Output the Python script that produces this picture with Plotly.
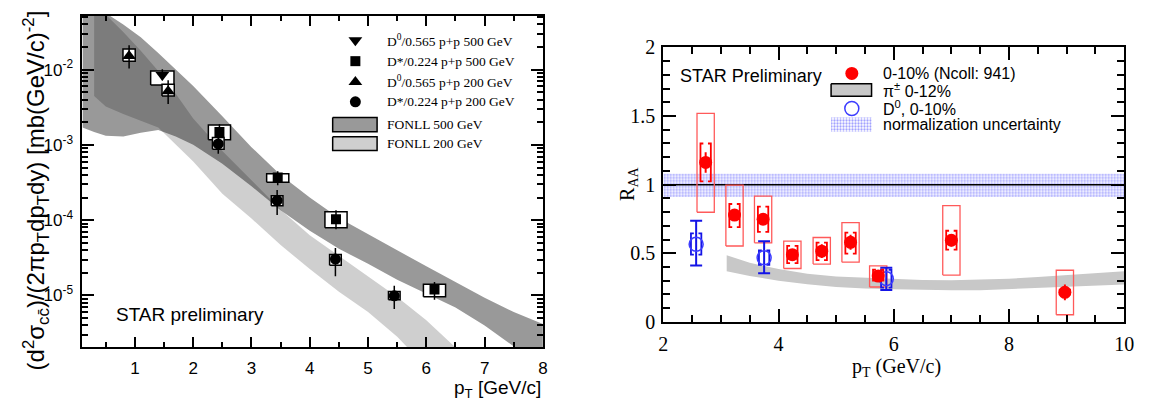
import plotly.graph_objects as go

W, H = 1151, 410

# ------------------------------------------------------------------ data: left panel
# D0/0.565 p+p 500 GeV
d0_500_pt = [1.47]
d0_500_y = [8.5e-3]
d0_500_stat_hi = [1.01e-2]
d0_500_stat_lo = [7.2e-3]
d0_500_sys_hi = [9.6e-3]
d0_500_sys_lo = [6.25e-3]
d0_500_dx = [0.20]

# D*/0.224 p+p 500 GeV
ds_500_pt = [2.45, 3.45, 4.45, 6.14]
ds_500_y = [1.48e-3, 3.69e-4, 1.03e-4, 1.2e-5]
ds_500_stat_hi = [1.88e-3, 4.47e-4, 1.35e-4, 1.51e-5]
ds_500_stat_lo = [1.22e-3, 2.9e-4, 7.6e-5, 8.75e-6]
ds_500_sys_hi = [1.83e-3, 4.14e-4, 1.29e-4, 1.41e-5]
ds_500_sys_lo = [1.17e-3, 3.19e-4, 7.94e-5, 9.6e-6]
ds_500_dx = [0.19, 0.19, 0.19, 0.19]

# D0/0.565 p+p 200 GeV
d0_200_pt = [0.90, 1.57]
d0_200_y = [1.51e-2, 5.16e-3]
d0_200_stat_hi = [2.11e-2, 7.2e-3]
d0_200_stat_lo = [1.03e-2, 3.5e-3]
d0_200_sys_hi = [1.88e-2, 6.37e-3]
d0_200_sys_lo = [1.29e-2, 4.47e-3]
d0_200_dx = [0.105, 0.105]

# D*/0.224 p+p 200 GeV
ds_200_pt = [2.43, 3.44, 4.44, 5.45]
ds_200_y = [1.03e-3, 1.83e-4, 3.04e-5, 9.9e-6]
ds_200_stat_hi = [1.35e-3, 2.51e-4, 4.26e-5, 1.35e-5]
ds_200_stat_lo = [7.6e-4, 1.17e-4, 1.8e-5, 6.6e-6]
ds_200_sys_hi = [1.25e-3, 2.11e-4, 3.51e-5, 1.13e-5]
ds_200_sys_lo = [8.75e-4, 1.56e-4, 2.51e-5, 8.75e-6]
ds_200_dx = [0.10, 0.10, 0.10, 0.10]

# FONLL 500 GeV band
fonll500_pt = [0.1, 0.3, 0.5, 0.8, 1.1, 1.4, 1.7, 2.0, 2.5, 3.0, 3.5, 4.0, 4.5, 5.0, 5.5, 6.0, 6.5, 7.0, 7.5, 8.0]
fonll500_hi = [8.71e-2, 7.08e-2, 5.62e-2, 3.98e-2, 2.69e-2, 1.66e-2, 1.0e-2, 6.03e-3, 2.40e-3, 9.33e-4,
               3.98e-4, 2.0e-4, 1.07e-4, 6.46e-5, 3.98e-5, 2.45e-5, 1.51e-5, 9.33e-6, 6.03e-6, 4.17e-6]
fonll500_lo = [1.70e-3, 1.48e-3, 1.32e-3, 1.29e-3, 1.45e-3, 1.58e-3, 1.29e-3, 1.0e-3, 5.62e-4, 2.82e-4,
               1.35e-4, 7.24e-5, 4.17e-5, 2.63e-5, 1.62e-5, 1.05e-5, 6.92e-6, 3.98e-6, 2.09e-6, 1.12e-6]

# FONLL 200 GeV band
fonll200_pt = [0.3, 0.5, 0.8, 1.1, 1.4, 1.7, 2.0, 2.5, 3.0, 3.5, 4.0, 4.5, 5.0, 5.5, 6.0, 6.5, 7.0]
fonll200_hi = [8.91e-2, 5.37e-2, 3.16e-2, 1.78e-2, 9.55e-3, 4.79e-3, 2.24e-3, 8.32e-4, 3.39e-4, 1.38e-4,
               6.31e-5, 3.39e-5, 1.82e-5, 9.55e-6, 4.68e-6, 2.0e-6, 8.9e-7]
fonll200_lo = [4.47e-3, 3.24e-3, 2.57e-3, 2.09e-3, 1.70e-3, 1.0e-3, 6.03e-4, 2.24e-4, 1.05e-4, 4.68e-5,
               2.24e-5, 1.12e-5, 6.03e-6, 2.82e-6, 1.12e-6, 4.0e-7, 1.6e-7]

left_ytick_vals = [1e-5, 1e-4, 1e-3, 1e-2]
left_ytick_text = ["10<sup>-5</sup>", "10<sup>-4</sup>", "10<sup>-3</sup>", "10<sup>-2</sup>"]

# ------------------------------------------------------------------ data: right panel
raa_pt = [2.735, 3.236, 3.732, 4.24, 4.75, 5.25, 5.73, 7.0, 8.97]
raa_y = [1.162, 0.778, 0.748, 0.49, 0.515, 0.58, 0.334, 0.595, 0.215]
raa_stat = [0.075, 0.04, 0.04, 0.04, 0.05, 0.055, 0.03, 0.045, 0.057]
raa_box_lo = [0.799, 0.553, 0.576, 0.389, 0.421, 0.435, 0.254, 0.341, 0.052]
raa_box_hi = [1.519, 0.997, 0.916, 0.588, 0.615, 0.723, 0.408, 0.847, 0.376]
raa_brk_lo = [1.024, 0.691, 0.656, 0.428, 0.45, 0.497, 0.30, 0.526, 0.20]
raa_brk_hi = [1.30, 0.859, 0.84, 0.554, 0.577, 0.65, 0.38, 0.664, 0.235]

d0_pt = [2.57, 3.75, 5.87]
d0_y = [0.565, 0.467, 0.315]
d0_stat_lo = [0.41, 0.355, 0.233]
d0_stat_hi = [0.737, 0.588, 0.394]
d0_brk_lo = [0.49, 0.416, 0.25]
d0_brk_hi = [0.645, 0.52, 0.38]

pion_pt = [3.1, 3.5, 4.0, 4.5, 5.0, 5.5, 6.0, 6.5, 7.0, 7.5, 8.0, 8.5, 9.0, 9.5, 10.0]
pion_hi = [0.486, 0.43, 0.385, 0.35, 0.33, 0.32, 0.314, 0.305, 0.303, 0.307, 0.315, 0.327, 0.341, 0.355, 0.369]
pion_lo = [0.369, 0.335, 0.30, 0.275, 0.255, 0.243, 0.238, 0.233, 0.231, 0.231, 0.236, 0.245, 0.254, 0.263, 0.272]

norm_lo, norm_hi = 0.91, 1.08
unity = 1.0

# ------------------------------------------------------------------ layout geometry (pixels)
L_X0, L_X1, L_Y0, L_Y1 = 78.5, 545.0, 5.0, 355.5
R_X0, R_X1, R_Y0, R_Y1 = 667.0, 1134.0, 38.5, 328.5

SANS = "Liberation Sans, Arial, sans-serif"
SERIF = "Liberation Serif, Times New Roman, serif"


def px(xp):
    return xp / W


def py(yp):
    return 1 - yp / H


def box_path(xs, lo, hi, dx):
    bx, by = [], []
    for x, l, h, d in zip(xs, lo, hi, dx):
        bx += [x - d, x + d, x + d, x - d, x - d, None]
        by += [l, l, h, h, l, None]
    return bx, by


def bracket_path(xs, lo, hi, hw, arm):
    bx, by = [], []
    for x, l, h in zip(xs, lo, hi):
        bx += [x - hw + arm, x - hw, x - hw, x - hw + arm, None,
               x + hw - arm, x + hw, x + hw, x + hw - arm, None]
        by += [h, h, l, l, None, h, h, l, l, None]
    return bx, by


fig = go.Figure()

# ---------------- left panel bands
fig.add_trace(go.Scatter(
    x=fonll500_pt + fonll500_pt[::-1], y=fonll500_hi + fonll500_lo[::-1],
    fill="toself", fillcolor="#999999", line=dict(width=0), mode="lines",
    xaxis="x", yaxis="y", showlegend=False, hoverinfo="skip"))
fig.add_trace(go.Scatter(
    x=fonll200_pt + fonll200_pt[::-1], y=fonll200_hi + fonll200_lo[::-1],
    fill="toself", fillcolor="rgba(0,0,0,0.19)", line=dict(width=0), mode="lines",
    xaxis="x", yaxis="y", showlegend=False, hoverinfo="skip"))

# ---------------- left panel systematic boxes
left_series = [
    (d0_500_pt, d0_500_y, d0_500_stat_lo, d0_500_stat_hi, d0_500_sys_lo, d0_500_sys_hi, d0_500_dx, "triangle-down", 12),
    (ds_500_pt, ds_500_y, ds_500_stat_lo, ds_500_stat_hi, ds_500_sys_lo, ds_500_sys_hi, ds_500_dx, "square", 10),
    (d0_200_pt, d0_200_y, d0_200_stat_lo, d0_200_stat_hi, d0_200_sys_lo, d0_200_sys_hi, d0_200_dx, "triangle-up", 12),
    (ds_200_pt, ds_200_y, ds_200_stat_lo, ds_200_stat_hi, ds_200_sys_lo, ds_200_sys_hi, ds_200_dx, "circle", 11),
]
for pt, y, slo, shi, blo, bhi, dx, sym, size in left_series:
    bx, by = box_path(pt, blo, bhi, dx)
    fig.add_trace(go.Scatter(x=bx, y=by, fill="toself", fillcolor="white",
                             line=dict(color="black", width=1.5), mode="lines",
                             xaxis="x", yaxis="y", showlegend=False, hoverinfo="skip"))
for pt, y, slo, shi, blo, bhi, dx, sym, size in left_series:
    fig.add_trace(go.Scatter(
        x=pt, y=y, mode="markers",
        marker=dict(symbol=sym, size=size, color="black"),
        error_y=dict(type="data", symmetric=False,
                     array=[h - v for h, v in zip(shi, y)],
                     arrayminus=[v - l for l, v in zip(slo, y)],
                     color="black", thickness=1.5, width=0),
        xaxis="x", yaxis="y", showlegend=False, hoverinfo="skip"))

# ---------------- right panel
fig.add_trace(go.Scatter(
    x=[2, 10, 10, 2, 2], y=[norm_lo, norm_lo, norm_hi, norm_hi, norm_lo],
    fill="toself", fillcolor="rgba(0,0,0,0)", mode="lines", line=dict(width=0),
    fillpattern=dict(shape=".", fgcolor="rgb(70,70,255)", bgcolor="rgba(255,255,255,0)", size=3, solidity=0.45),
    xaxis="x2", yaxis="y2", showlegend=False, hoverinfo="skip"))
fig.add_trace(go.Scatter(x=[2, 10], y=[unity, unity], mode="lines",
                         line=dict(color="black", width=1.5),
                         xaxis="x2", yaxis="y2", showlegend=False, hoverinfo="skip"))
fig.add_trace(go.Scatter(
    x=pion_pt + pion_pt[::-1], y=pion_hi + pion_lo[::-1],
    fill="toself", fillcolor="#c8c8c8", line=dict(width=0), mode="lines",
    xaxis="x2", yaxis="y2", showlegend=False, hoverinfo="skip"))

bx, by = box_path(raa_pt, raa_box_lo, raa_box_hi, [0.15] * len(raa_pt))
fig.add_trace(go.Scatter(x=bx, y=by, mode="lines", line=dict(color="#ff5a5a", width=1.3),
                         xaxis="x2", yaxis="y2", showlegend=False, hoverinfo="skip"))

# D0 points
bx, by = bracket_path(d0_pt, d0_brk_lo, d0_brk_hi, 0.09, 0.05)
fig.add_trace(go.Scatter(x=bx, y=by, mode="lines", line=dict(color="#1414e6", width=1.8),
                         xaxis="x2", yaxis="y2", showlegend=False, hoverinfo="skip"))
fig.add_trace(go.Scatter(
    x=d0_pt, y=d0_y, mode="markers",
    marker=dict(symbol="circle-open", size=14, color="#3c3cff", line=dict(width=1.5)),
    error_y=dict(type="data", symmetric=False,
                 array=[h - v for h, v in zip(d0_stat_hi, d0_y)],
                 arrayminus=[v - l for l, v in zip(d0_stat_lo, d0_y)],
                 color="#1414e6", thickness=2, width=6),
    xaxis="x2", yaxis="y2", showlegend=False, hoverinfo="skip"))

# RAA brackets and points
bx, by = bracket_path(raa_pt, raa_brk_lo, raa_brk_hi, 0.09, 0.05)
fig.add_trace(go.Scatter(x=bx, y=by, mode="lines", line=dict(color="red", width=1.8),
                         xaxis="x2", yaxis="y2", showlegend=False, hoverinfo="skip"))
fig.add_trace(go.Scatter(
    x=raa_pt, y=raa_y, mode="markers",
    marker=dict(symbol="circle", size=13, color="red"),
    error_y=dict(type="data", array=raa_stat, color="red", thickness=2, width=0),
    xaxis="x2", yaxis="y2", showlegend=False, hoverinfo="skip"))


# ---------------- legend helpers on a full-page overlay axis (pixel coordinates)
def leg_marker(xp, yp, sym, size, color, lw=0):
    fig.add_trace(go.Scatter(x=[xp], y=[yp], mode="markers",
                             marker=dict(symbol=sym, size=size, color=color, line=dict(width=lw, color=color)),
                             xaxis="x3", yaxis="y3", showlegend=False, hoverinfo="skip"))


def leg_rect(x0, x1, y0, y1, fill, pattern=None, lw=1.5):
    kw = {}
    if pattern is not None:
        kw["fillpattern"] = pattern
    fig.add_trace(go.Scatter(x=[x0, x1, x1, x0, x0], y=[y0, y0, y1, y1, y0], mode="lines",
                             fill="toself", fillcolor=fill,
                             line=dict(color="black", width=lw),
                             xaxis="x3", yaxis="y3", showlegend=False, hoverinfo="skip", **kw))


# left legend
leg_marker(355, 31, "triangle-down", 12, "black")
leg_marker(355, 53, "square", 10, "black")
leg_marker(355, 75, "triangle-up", 12, "black")
leg_marker(355, 96, "circle", 11, "black")
leg_rect(332, 377, 112.5, 127.5, "#999999")
leg_rect(332, 377, 133, 147.5, "rgba(0,0,0,0.19)")

# right legend
leg_marker(858, 66, "circle", 13, "red")
leg_rect(837, 878, 77, 90, "#c8c8c8")
leg_marker(858, 103, "circle-open", 14, "#3c3cff", 1.5)
leg_rect(837, 878, 112.5, 127.5, "rgba(0,0,0,0)",
         pattern=dict(shape=".", fgcolor="rgb(70,70,255)", bgcolor="rgba(255,255,255,0)", size=3, solidity=0.45),
         lw=0)

annotations = []


def text(x, y, s, size, family, xanchor="left", yanchor="middle", angle=0, color="black"):
    annotations.append(dict(x=px(x), y=py(y), xref="paper", yref="paper", text=s, showarrow=False,
                            xanchor=xanchor, yanchor=yanchor, textangle=angle,
                            font=dict(size=size, family=family, color=color)))


leg_left = ["D<sup>0</sup>/0.565 p+p 500 GeV", "D*/0.224 p+p 500 GeV",
            "D<sup>0</sup>/0.565 p+p 200 GeV", "D*/0.224 p+p 200 GeV",
            "FONLL 500 GeV", "FONLL 200 GeV"]
for s, yy in zip(leg_left, [31, 53, 75, 96, 120, 140]):
    text(385, yy, s, 13.5, SERIF)

text(110, 321, "STAR preliminary", 19, SANS)
text(31, 190, "(d<sup>2</sup>σ<sub>cc̄</sub>)/(2πp<sub>T</sub>dp<sub>T</sub>dy) [mb(GeV/c)<sup>-2</sup>]",
     24, SANS, xanchor="center", angle=-90)
text(545, 414, "p<sub>T</sub> [GeV/c]", 19, SANS, xanchor="right", yanchor="bottom")

text(682, 69, "STAR Preliminary", 18, SANS)
text(888, 66, "0-10% (Ncoll: 941)", 16, SANS)
text(888, 84, "π<sup>±</sup> 0-12%", 16, SANS)
text(888, 103, "D<sup>0</sup>, 0-10%", 16, SANS)
text(888, 120, "normalization uncertainty", 16, SANS)
text(903, 361, "p<sub>T</sub> (GeV/c)", 20, SERIF, xanchor="center", yanchor="top")
text(631, 183, "R<sub>AA</sub>", 20, SERIF, xanchor="center", angle=-90)

axis_common = dict(showline=True, linecolor="black", linewidth=2, mirror="ticks",
                   ticks="inside", tickcolor="black", tickwidth=1.5, showgrid=False, zeroline=False)

fig.update_layout(
    width=W, height=H, margin=dict(l=0, r=0, t=0, b=0),
    paper_bgcolor="white", plot_bgcolor="rgba(0,0,0,0)",
    showlegend=False,
    annotations=annotations,
    xaxis=dict(domain=[px(L_X0), px(L_X1)], range=[0.1, 8.0], anchor="y",
               tick0=0, dtick=1, ticklen=10,
               minor=dict(ticks="inside", dtick=0.5, ticklen=5, tickcolor="black", tickwidth=1.5, showgrid=False),
               tickfont=dict(family=SANS, size=17, color="black"), ticklabelstandoff=4, **axis_common),
    yaxis=dict(domain=[py(L_Y1), py(L_Y0)], type="log", range=[-5.69, -1.285], anchor="x",
               tickvals=left_ytick_vals, ticktext=left_ytick_text, ticklen=12,
               minor=dict(ticks="inside", dtick="D1", ticklen=6, tickcolor="black", tickwidth=1.5, showgrid=False),
               tickfont=dict(family=SANS, size=17, color="black"), ticklabelstandoff=4, **axis_common),
    xaxis2=dict(domain=[px(R_X0), px(R_X1)], range=[2, 10], anchor="y2",
                tick0=0, dtick=2, ticklen=13,
                minor=dict(ticks="inside", dtick=0.5, ticklen=7, tickcolor="black", tickwidth=1.5, showgrid=False),
                tickfont=dict(family=SERIF, size=20, color="black"), ticklabelstandoff=3, **axis_common),
    yaxis2=dict(domain=[py(R_Y1), py(R_Y0)], range=[0, 2], anchor="x2",
                tick0=0, dtick=0.5, ticklen=13,
                minor=dict(ticks="inside", dtick=0.1, ticklen=7, tickcolor="black", tickwidth=1.5, showgrid=False),
                tickfont=dict(family=SERIF, size=20, color="black"), ticklabelstandoff=2, **axis_common),
    xaxis3=dict(domain=[0, 1], range=[0, W], visible=False, anchor="y3"),
    yaxis3=dict(domain=[0, 1], range=[H, 0], visible=False, anchor="x3"),
)

fig.write_html("out.html")
